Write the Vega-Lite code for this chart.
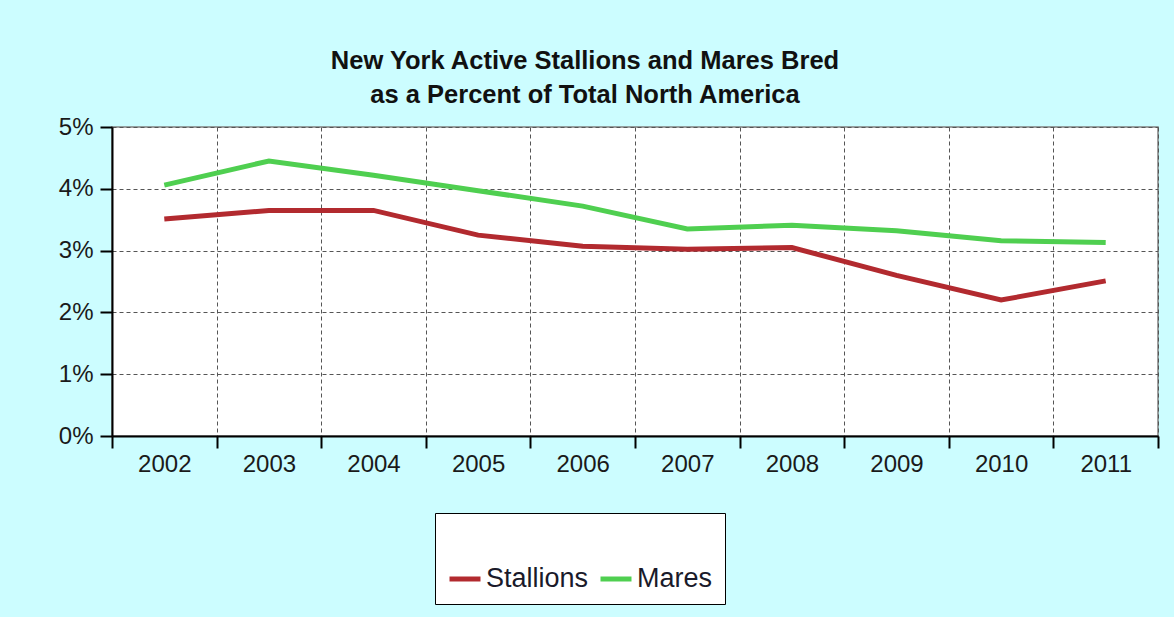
{
  "$schema": "https://vega.github.io/schema/vega-lite/v6.json",
  "width": 1046,
  "height": 309,
  "autosize": {"type": "none"},
  "padding": {"left": 112, "top": 127, "right": 16, "bottom": 181},
  "background": "#ccfdff",
  "title": {
    "text": ["New York Active Stallions and Mares Bred", "as a Percent of Total North America"],
    "font": "Liberation Sans",
    "fontSize": 25.5,
    "fontWeight": "bold",
    "color": "#111111",
    "lineHeight": 34,
    "anchor": "middle",
    "frame": "group",
    "dx": -50,
    "offset": 7
  },
  "config": {
    "view": {"fill": "white", "stroke": "#808080", "strokeWidth": 1.5},
    "font": "Liberation Sans",
    "axis": {
      "labelFont": "Liberation Sans",
      "labelFontSize": 24,
      "labelColor": "#1a1a1a",
      "domainColor": "#000000",
      "domainWidth": 2,
      "tickColor": "#000000",
      "tickWidth": 2,
      "tickSize": 12,
      "gridColor": "#555555",
      "gridDash": [4, 3],
      "gridWidth": 1,
      "gridOpacity": 1,
      "title": null
    }
  },
  "data": {
    "values": [
      {"year": "2002", "series": "Stallions", "pct": 0.0351},
      {"year": "2003", "series": "Stallions", "pct": 0.0365},
      {"year": "2004", "series": "Stallions", "pct": 0.0365},
      {"year": "2005", "series": "Stallions", "pct": 0.0325},
      {"year": "2006", "series": "Stallions", "pct": 0.0307},
      {"year": "2007", "series": "Stallions", "pct": 0.0302},
      {"year": "2008", "series": "Stallions", "pct": 0.0305},
      {"year": "2009", "series": "Stallions", "pct": 0.0260},
      {"year": "2010", "series": "Stallions", "pct": 0.0220},
      {"year": "2011", "series": "Stallions", "pct": 0.0251},
      {"year": "2002", "series": "Mares", "pct": 0.0406},
      {"year": "2003", "series": "Mares", "pct": 0.0445},
      {"year": "2004", "series": "Mares", "pct": 0.0422},
      {"year": "2005", "series": "Mares", "pct": 0.0397},
      {"year": "2006", "series": "Mares", "pct": 0.0372},
      {"year": "2007", "series": "Mares", "pct": 0.0335},
      {"year": "2008", "series": "Mares", "pct": 0.0341},
      {"year": "2009", "series": "Mares", "pct": 0.0332},
      {"year": "2010", "series": "Mares", "pct": 0.0316},
      {"year": "2011", "series": "Mares", "pct": 0.0313}
    ]
  },
  "mark": {"type": "line", "strokeWidth": 5, "strokeCap": "butt"},
  "encoding": {
    "x": {
      "field": "year",
      "type": "ordinal",
      "scale": {"type": "band", "paddingInner": 0, "paddingOuter": 0},
      "axis": {
        "labelAngle": 0,
        "tickBand": "extent",
        "grid": true,
        "labelPadding": 4
      }
    },
    "y": {
      "field": "pct",
      "type": "quantitative",
      "scale": {"domain": [0, 0.05], "nice": false},
      "axis": {
        "values": [0, 0.01, 0.02, 0.03, 0.04, 0.05],
        "format": ".0%",
        "grid": true,
        "labelPadding": 7
      }
    },
    "color": {
      "field": "series",
      "type": "nominal",
      "sort": ["Stallions", "Mares"],
      "scale": {"domain": ["Stallions", "Mares"], "range": ["#b22a2f", "#4fcf50"]},
      "legend": {
        "orient": "none",
        "legendX": 323,
        "legendY": 386,
        "direction": "horizontal",
        "title": "\u00a0\u00a0\u00a0\u00a0\u00a0\u00a0\u00a0\u00a0",
        "titleFontSize": 30,
        "titlePadding": 6,
        "padding": 12,
        "fillColor": "white",
        "strokeColor": "#000000",
        "labelFont": "Liberation Sans",
        "labelFontSize": 27,
        "labelColor": "#1a1a2a",
        "labelOffset": 3,
        "columnPadding": 1,
        "labelExpr": "datum.label == 'Mares' ? datum.label + '\u00a0\u00a0\u00a0\u00a0\u00a0\u00a0' : datum.label",
        "symbolType": "stroke",
        "symbolSize": 961,
        "symbolStrokeWidth": 5
      }
    }
  }
}
